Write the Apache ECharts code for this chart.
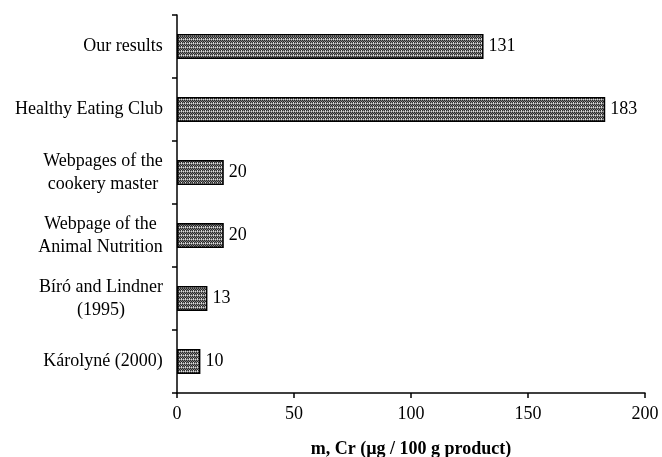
<!DOCTYPE html>
<html>
<head>
<meta charset="utf-8">
<script src="https://cdn.jsdelivr.net/npm/echarts@6/dist/echarts.min.js"></script>
<style>
  html, body { margin: 0; padding: 0; background: #fff; }
  #chart { width: 662px; height: 457px; }
</style>
</head>
<body>
<div id="chart"></div>
<script>
// data, bottom to top as the category axis draws them
const categories = [
  'Károlyné (2000)',
  'Bíró and Lindner\n(1995)',
  'Webpage of the\nAnimal Nutrition',
  'Webpages of the\ncookery master',
  'Healthy Eating Club',
  'Our results'
]
const values = [10, 13, 20, 20, 183, 131]
const xTicks = [0, 50, 100, 150, 200]

const font = '"Liberation Serif", "Times New Roman", serif'
const fontSize = 18

// checkered hatch fill like the printed bars
function makePattern() {
  const c = document.createElement('canvas')
  c.width = 4
  c.height = 4
  const ctx = c.getContext('2d')
  ctx.fillStyle = '#808080'
  ctx.fillRect(0, 0, 4, 4)
  ctx.fillStyle = '#2a2a2a'
  ctx.fillRect(0, 0, 1, 1)
  ctx.fillRect(2, 0, 1, 1)
  ctx.fillRect(1, 1, 1, 1)
  ctx.fillRect(3, 1, 1, 1)
  ctx.fillRect(0, 2, 1, 1)
  ctx.fillRect(2, 2, 1, 1)
  ctx.fillStyle = '#d8d8d8'
  ctx.fillRect(1, 3, 1, 1)
  ctx.fillRect(3, 3, 1, 1)
  ctx.fillRect(1, 2, 1, 1)
  return c
}

// multi-line labels: lines centred inside a block that is right-aligned on the axis
const measure = document.createElement('canvas').getContext('2d')
measure.font = fontSize + 'px ' + font
const rich = {}
categories.forEach(function (cat, i) {
  const w = Math.max.apply(null, cat.split('\n').map(function (s) { return measure.measureText(s).width }))
  rich['c' + i] = { fontSize: fontSize, fontFamily: font, color: '#000', lineHeight: 23, width: Math.ceil(w), align: 'center' }
})

const chart = echarts.init(document.getElementById('chart'))
chart.setOption({
  animation: false,
  textStyle: { fontFamily: font },
  grid: { left: 177, right: 17, top: 15, bottom: 64, containLabel: false, outerBoundsMode: 'none' },
  xAxis: {
    type: 'value',
    min: xTicks[0],
    max: xTicks[xTicks.length - 1],
    interval: 50,
    splitLine: { show: false },
    axisLine: { show: true, lineStyle: { color: '#000', width: 1.5 } },
    axisTick: { show: true, length: 5, lineStyle: { color: '#000', width: 1.5 } },
    axisLabel: { color: '#000', fontSize: fontSize, fontFamily: font, margin: 12 },
    name: 'm, Cr (µg / 100 g product)',
    nameLocation: 'middle',
    nameGap: 47,
    nameTextStyle: { color: '#000', fontSize: fontSize, fontWeight: 'bold', fontFamily: font }
  },
  yAxis: {
    type: 'category',
    data: categories,
    axisLine: { show: true, lineStyle: { color: '#000', width: 1.5 } },
    axisTick: { show: true, length: 5, lineStyle: { color: '#000', width: 1.5 } },
    axisLabel: {
      color: '#000',
      margin: 14,
      align: 'right',
      formatter: function (v, i) {
        return v.split('\n').map(function (s) { return '{c' + i + '|' + s + '}' }).join('\n')
      },
      rich: rich
    }
  },
  series: [
    {
      type: 'bar',
      data: values,
      barCategoryGap: '60%',
      itemStyle: {
        color: { image: makePattern(), repeat: 'repeat' },
        borderColor: '#000',
        borderWidth: 1.5
      },
      label: {
        show: true,
        position: 'right',
        distance: 5,
        color: '#000',
        fontSize: fontSize,
        fontFamily: font
      }
    }
  ]
})
</script>
</body>
</html>
